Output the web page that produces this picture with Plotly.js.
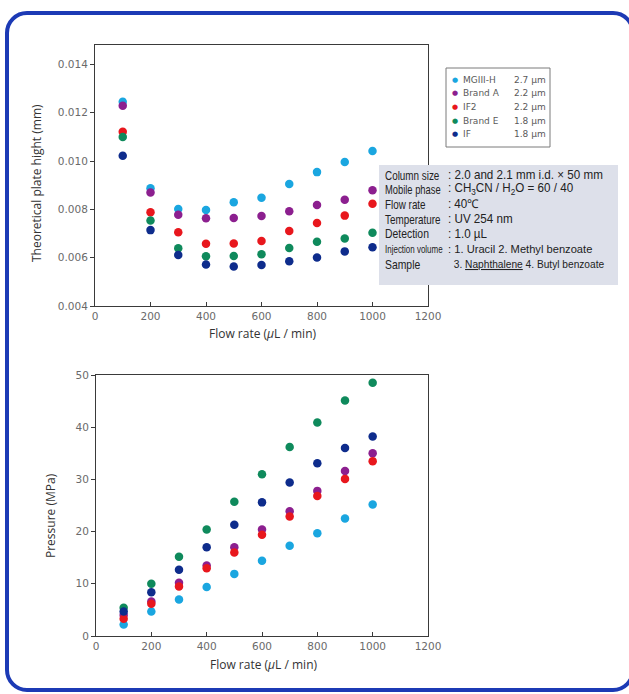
<!DOCTYPE html>
<html>
<head>
<meta charset="utf-8">
<script src="https://cdn.plot.ly/plotly-3.0.1.min.js"></script>
<style>
html,body{margin:0;padding:0;background:#ffffff;}
#wrap{position:relative;width:629px;height:694px;overflow:hidden;}
#chart{position:absolute;left:0;top:0;width:629px;height:694px;}
#frame{position:absolute;left:5px;top:11px;width:622px;height:673px;border:4px solid #1c3ab5;border-radius:22px;pointer-events:none;}
</style>
</head>
<body>
<div id="wrap"><div id="chart"></div><div id="frame"></div></div>
<script>
// ---- data ----
const flowRate = [100,200,300,400,500,600,700,800,900,1000];

const seriesNames = ["MGIII-H","Brand A","IF2","Brand E","IF"];
const particleSizes = ["2.7 µm","2.2 µm","2.2 µm","1.8 µm","1.8 µm"];
const seriesColors = ["#1aa6e0","#8c1f8f","#e8171d","#0f8a5c","#0e2c8c"];

// Theoretical plate height (mm)
const hMGIIIH = [0.01245,0.00887,0.00801,0.00797,0.00829,0.00848,0.00905,0.00954,0.00996,0.01041];
const hBrandA = [0.01229,0.00870,0.00778,0.00763,0.00764,0.00772,0.00792,0.00818,0.00840,0.00879];
const hIF2    = [0.01121,0.00788,0.00705,0.00658,0.00659,0.00669,0.00710,0.00743,0.00774,0.00823];
const hBrandE = [0.01099,0.00754,0.00639,0.00606,0.00607,0.00614,0.00640,0.00666,0.00679,0.00703];
const hIF     = [0.01022,0.00714,0.00611,0.00572,0.00563,0.00570,0.00585,0.00601,0.00626,0.00643];

// Pressure (MPa)
const pMGIIIH = [2.2,4.7,7.0,9.4,11.9,14.4,17.3,19.7,22.5,25.2];
const pBrandA = [4.0,6.6,10.2,13.5,17.0,20.4,23.9,27.8,31.6,35.0];
const pIF2    = [3.3,6.2,9.5,13.0,16.0,19.4,22.9,26.8,30.1,33.5];
const pBrandE = [5.4,10.0,15.2,20.4,25.7,31.0,36.2,40.9,45.1,48.5];
const pIF     = [4.7,8.4,12.7,17.0,21.3,25.6,29.4,33.1,36.0,38.2];

const heightSeries = [hMGIIIH,hBrandA,hIF2,hBrandE,hIF];
const pressureSeries = [pMGIIIH,pBrandA,pIF2,pBrandE,pIF];

const xTickVals = [0,200,400,600,800,1000,1200];
const hTickVals = [0.004,0.006,0.008,0.010,0.012,0.014];
const pTickVals = [0,10,20,30,40,50];

const xTitle = "Flow rate (<i>µ</i>L / min)";
const hTitle = "Theoretical plate hight (mm)";
const pTitle = "Pressure (MPa)";

const infoLabels = ["Column size","Mobile phase","Flow rate","Temperature","Detection","Injection volume","Sample"];
const infoValues = [": 2.0 and 2.1 mm i.d. × 50 mm",": CH<sub>3</sub>CN / H<sub>2</sub>O = 60 / 40",": 40℃",": UV 254 nm",": 1.0 µL",": 1. Uracil 2. Methyl benzoate","  3. <u>Naphthalene</u> 4. Butyl benzoate"];

// ---- helpers (pixel -> paper) ----
const W = 629, H = 694;
const px = v => v / W;
const py = v => 1 - v / H;

const traces = [];
seriesNames.forEach((n,i)=>{
  traces.push({x:flowRate,y:heightSeries[i],type:"scatter",mode:"markers",name:n,
    marker:{color:seriesColors[i],size:8.5},xaxis:"x",yaxis:"y",showlegend:false});
  traces.push({x:flowRate,y:pressureSeries[i],type:"scatter",mode:"markers",name:n,
    marker:{color:seriesColors[i],size:8.5},xaxis:"x2",yaxis:"y2",showlegend:false});
});

const tickFont = {family:"DejaVu Sans, sans-serif",size:10.5,color:"#6a6a6a"};
const axisCommon = {showgrid:false,zeroline:false,showline:true,linecolor:"#3a3a3a",linewidth:1,mirror:true,
  tickfont:tickFont,tickcolor:"#3a3a3a",ticklen:4,tickwidth:1};

const sans = "Liberation Sans, Arial, sans-serif";

const annotations = [];
const titleFont = {family:"Open Sans, sans-serif",size:12,color:"#333"};
annotations.push({xref:"paper",yref:"paper",x:px(262),y:py(333),text:xTitle,showarrow:false,font:titleFont,xanchor:"center",yanchor:"middle"});
annotations.push({xref:"paper",yref:"paper",x:px(263),y:py(664),text:xTitle,showarrow:false,font:titleFont,xanchor:"center",yanchor:"middle"});
annotations.push({xref:"paper",yref:"paper",x:px(36),y:py(183),text:hTitle,showarrow:false,font:titleFont,textangle:-90,xanchor:"center",yanchor:"middle"});
annotations.push({xref:"paper",yref:"paper",x:px(50),y:py(516),text:pTitle,showarrow:false,font:titleFont,textangle:-90,xanchor:"center",yanchor:"middle"});

// legend (manual)
const legRowY = [80,93.5,107,120.5,134];
seriesNames.forEach((n,i)=>{
  annotations.push({xref:"paper",yref:"paper",x:px(455),y:py(legRowY[i]),text:"●",showarrow:false,
    font:{family:"DejaVu Sans, sans-serif",size:7,color:seriesColors[i]},xanchor:"center",yanchor:"middle"});
  annotations.push({xref:"paper",yref:"paper",x:px(461),y:py(legRowY[i]),text:n,showarrow:false,
    font:{family:"DejaVu Sans, sans-serif",size:9,color:"#5a5a5a"},xanchor:"left",yanchor:"middle"});
  annotations.push({xref:"paper",yref:"paper",x:px(548),y:py(legRowY[i]),text:particleSizes[i],showarrow:false,
    font:{family:"DejaVu Sans, sans-serif",size:9,color:"#5a5a5a"},xanchor:"right",yanchor:"middle"});
});

// info box
const infoRowY = [175,189.5,204,219,234,249,264];
const labelSizes = [13,13,13,13,13,10.5,13];
const labelScale = [0.76,0.72,0.76,0.76,0.8,0.76,0.8];
const valueSizes = [12,12,12,12,12,11.5,10.5];
const valueScale = [0.97,0.97,0.97,0.97,0.97,0.97,0.97];
const scaled = [];
infoLabels.forEach((l,i)=>{
  scaled.push([annotations.length,labelScale[i]]);
  annotations.push({xref:"paper",yref:"paper",x:px(383),y:py(infoRowY[i]),text:l,showarrow:false,
    font:{family:sans,size:labelSizes[i],color:"#222"},xanchor:"left",yanchor:"middle"});
  scaled.push([annotations.length,valueScale[i]]);
  annotations.push({xref:"paper",yref:"paper",x:px(446),y:py(infoRowY[i]),text:infoValues[i],showarrow:false,
    font:{family:sans,size:valueSizes[i],color:"#222"},xanchor:"left",yanchor:"middle"});
});

const shapes = [
  {type:"rect",xref:"paper",yref:"paper",x0:px(446),x1:px(550),y0:py(147),y1:py(68),
    line:{color:"#7a7a7a",width:1},fillcolor:"#ffffff",layer:"above"},
  {type:"rect",xref:"paper",yref:"paper",x0:px(379),x1:px(618),y0:py(285),y1:py(165),
    line:{width:0},fillcolor:"#dde0ea",layer:"above"}
];

const layout = {
  width:W,height:H,margin:{l:0,r:0,t:0,b:0},
  paper_bgcolor:"#ffffff",plot_bgcolor:"#ffffff",showlegend:false,
  xaxis:Object.assign({},axisCommon,{domain:[px(95),px(428)],range:[0,1200],tickvals:xTickVals,ticks:"inside",anchor:"y"}),
  yaxis:Object.assign({},axisCommon,{domain:[py(306),py(45)],range:[0.004,0.0148],tickvals:hTickVals,tickformat:".3f",ticks:"outside",anchor:"x"}),
  xaxis2:Object.assign({},axisCommon,{domain:[px(96),px(428)],range:[0,1200],tickvals:xTickVals,ticks:"inside",anchor:"y2"}),
  yaxis2:Object.assign({},axisCommon,{domain:[py(636),py(375)],range:[0,50],tickvals:pTickVals,ticks:"outside",anchor:"x2"}),
  annotations:annotations,shapes:shapes
};

Plotly.newPlot("chart",traces,layout,{displayModeBar:false,staticPlot:true}).then(gd=>{
  scaled.forEach(([k,s])=>{
    const t = gd.querySelector('.annotation[data-index="'+k+'"] text.annotation-text');
    if(t){
      const b = t.getBBox();
      t.setAttribute("transform","matrix("+s+",0,0,1,"+(b.x*(1-s))+",0)");
    }
  });
});
</script>
</body>
</html>
